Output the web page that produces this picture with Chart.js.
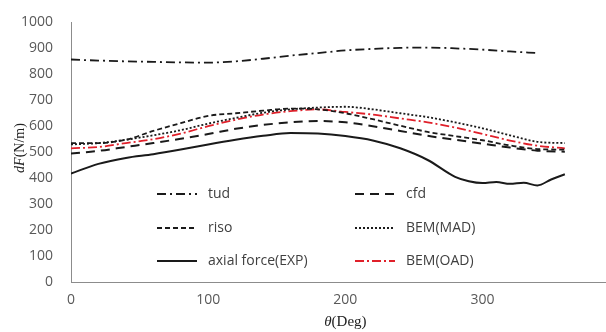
<!DOCTYPE html>
<html>
<head>
<meta charset="utf-8">
<script src="https://cdn.jsdelivr.net/npm/chart.js@4.4.1/dist/chart.umd.min.js"></script>
<style>
  html, body { margin: 0; padding: 0; background: #fff; }
  #wrap { width: 606px; height: 332px; }
</style>
</head>
<body>
<div id="wrap"><canvas id="graphique" width="606" height="332"></canvas></div>
<script>
// angles (deg) des points
const theta = [0, 20, 40, 60, 80, 100, 120, 140, 160, 180, 200, 220, 240, 260, 280, 300, 320, 340, 360];
const thetaTud = [0, 20, 40, 60, 80, 100, 120, 140, 160, 180, 200, 220, 240, 260, 280, 300, 320, 340];
const thetaExp = [0, 20, 40, 60, 80, 100, 120, 140, 160, 180, 200, 220, 240, 260, 280, 290, 300, 310, 320, 330, 340, 350, 360];

const tud = [857, 853, 850, 848, 846, 845, 850, 860, 872, 882, 892, 898, 902, 903, 900, 895, 888, 882];
const cfd = [495, 505, 520, 535, 552, 570, 590, 605, 615, 620, 615, 600, 582, 563, 548, 533, 518, 506, 502];
const riso = [535, 535, 548, 582, 612, 640, 650, 660, 668, 665, 650, 627, 602, 578, 562, 546, 526, 512, 510];
const bemMad = [530, 535, 548, 565, 585, 610, 632, 652, 665, 672, 675, 665, 650, 635, 615, 592, 565, 540, 535];
const bemOad = [515, 520, 535, 550, 572, 600, 625, 645, 658, 665, 655, 645, 630, 615, 595, 570, 545, 525, 515];
const expForce = [418, 455, 478, 492, 510, 530, 548, 563, 574, 572, 562, 545, 515, 470, 405, 388, 381, 385, 378, 382, 372, 395, 415];

const yTicks = [0, 100, 200, 300, 400, 500, 600, 700, 800, 900, 1000];
const xTicks = [0, 100, 200, 300];

function pts(xs, ys) {
    return xs.map((x, i) => ({ x: x, y: ys[i] }));
}

const series = [
    { label: 'tud', data: pts(thetaTud, tud), color: '#1a1a1a', dash: [9, 4, 2, 4], width: 1.8 },
    { label: 'cfd', data: pts(theta, cfd), color: '#1a1a1a', dash: [9, 6], width: 2 },
    { label: 'riso', data: pts(theta, riso), color: '#1a1a1a', dash: [5, 3], width: 1.8 },
    { label: 'BEM(MAD)', data: pts(theta, bemMad), color: '#1a1a1a', dash: [2, 2], width: 1.8 },
    { label: 'axial force(EXP)', data: pts(thetaExp, expForce), color: '#1a1a1a', dash: [], width: 2 },
    { label: 'BEM(OAD)', data: pts(theta, bemOad), color: '#e0202a', dash: [9, 3, 2, 3], width: 1.8 }
];

// légende dessinée dans la zone du graphique, 2 colonnes
const legendeInterne = {
    id: 'legendeInterne',
    afterDatasetsDraw(chart) {
        const ctx = chart.ctx;
        const cols = [157, 355];
        const rows = [194, 228, 261];
        ctx.save();
        ctx.font = '14px "Open Sans"';
        ctx.fillStyle = '#404040';
        ctx.textBaseline = 'middle';
        series.forEach((s, i) => {
            const x = cols[i % 2];
            const y = rows[Math.floor(i / 2)];
            ctx.beginPath();
            ctx.setLineDash(s.dash);
            ctx.strokeStyle = s.color;
            ctx.lineWidth = s.width;
            ctx.moveTo(x, y);
            ctx.lineTo(x + 40, y);
            ctx.stroke();
            ctx.setLineDash([]);
            ctx.fillText(s.label, x + 51, y);
        });

        // le "4" du 400 coupé au bord droit
        const xs = chart.scales.x;
        ctx.fillStyle = '#595959';
        ctx.font = '14px "Open Sans"';
        ctx.textAlign = 'center';
        ctx.fillText('400', xs.getPixelForValue(400), 302);

        // titres des axes
        ctx.fillStyle = '#222';
        const cx = xs.getPixelForValue(200);
        ctx.font = 'italic 15px "Liberation Serif"';
        const w1 = ctx.measureText('θ').width;
        ctx.font = '15px "Liberation Serif"';
        const w2 = ctx.measureText('(Deg)').width;
        const start = cx - (w1 + w2) / 2;
        ctx.textAlign = 'left';
        ctx.font = 'italic 15px "Liberation Serif"';
        ctx.fillText('θ', start, 322);
        ctx.font = '15px "Liberation Serif"';
        ctx.fillText('(Deg)', start + w1, 322);

        ctx.translate(20, 148);
        ctx.rotate(-Math.PI / 2);
        ctx.font = 'italic 14px "Liberation Serif"';
        const a = ctx.measureText('dF').width;
        ctx.font = '14px "Liberation Serif"';
        const b = ctx.measureText('(N/m)').width;
        const s0 = -(a + b) / 2;
        ctx.font = 'italic 14px "Liberation Serif"';
        ctx.fillText('dF', s0, 0);
        ctx.font = '14px "Liberation Serif"';
        ctx.fillText('(N/m)', s0 + a, 0);
        ctx.restore();
    }
};

const canvas = document.getElementById('graphique');
const ctx = canvas.getContext('2d');

const myChart = new Chart(ctx, {
    type: 'line',
    data: {
        datasets: series.map(s => ({
            label: s.label,
            data: s.data,
            borderColor: s.color,
            borderWidth: s.width,
            borderDash: s.dash,
            pointRadius: 0,
            fill: false,
            tension: 0.4,
            cubicInterpolationMode: 'monotone'
        }))
    },
    options: {
        responsive: false,
        animation: false,
        layout: { padding: { top: 21, right: 0, left: 0, bottom: 0 } },
        plugins: {
            legend: { display: false },
            tooltip: { enabled: false }
        },
        scales: {
            x: {
                type: 'linear',
                min: 0,
                max: 390,
                afterBuildTicks: axis => { axis.ticks = xTicks.map(v => ({ value: v })); },
                afterFit: axis => { axis.height = 50; },
                grid: { display: false, drawTicks: true, tickLength: 4, color: '#999' },
                border: { display: true, color: '#8c8c8c', width: 1 },
                ticks: { color: '#595959', font: { family: 'Open Sans', size: 14 }, maxRotation: 0, padding: 6 }
            },
            y: {
                min: 0,
                max: 1000,
                afterBuildTicks: axis => { axis.ticks = yTicks.map(v => ({ value: v })); },
                afterFit: axis => { axis.width = 71; },
                grid: { display: false, drawTicks: true, tickLength: 4, color: '#999' },
                border: { display: true, color: '#8c8c8c', width: 1 },
                ticks: {
                    color: '#595959',
                    font: { family: 'Open Sans', size: 14 },
                    padding: 14,
                    callback: v => String(v)
                }
            }
        }
    },
    plugins: [legendeInterne]
});
</script>
</body>
</html>
